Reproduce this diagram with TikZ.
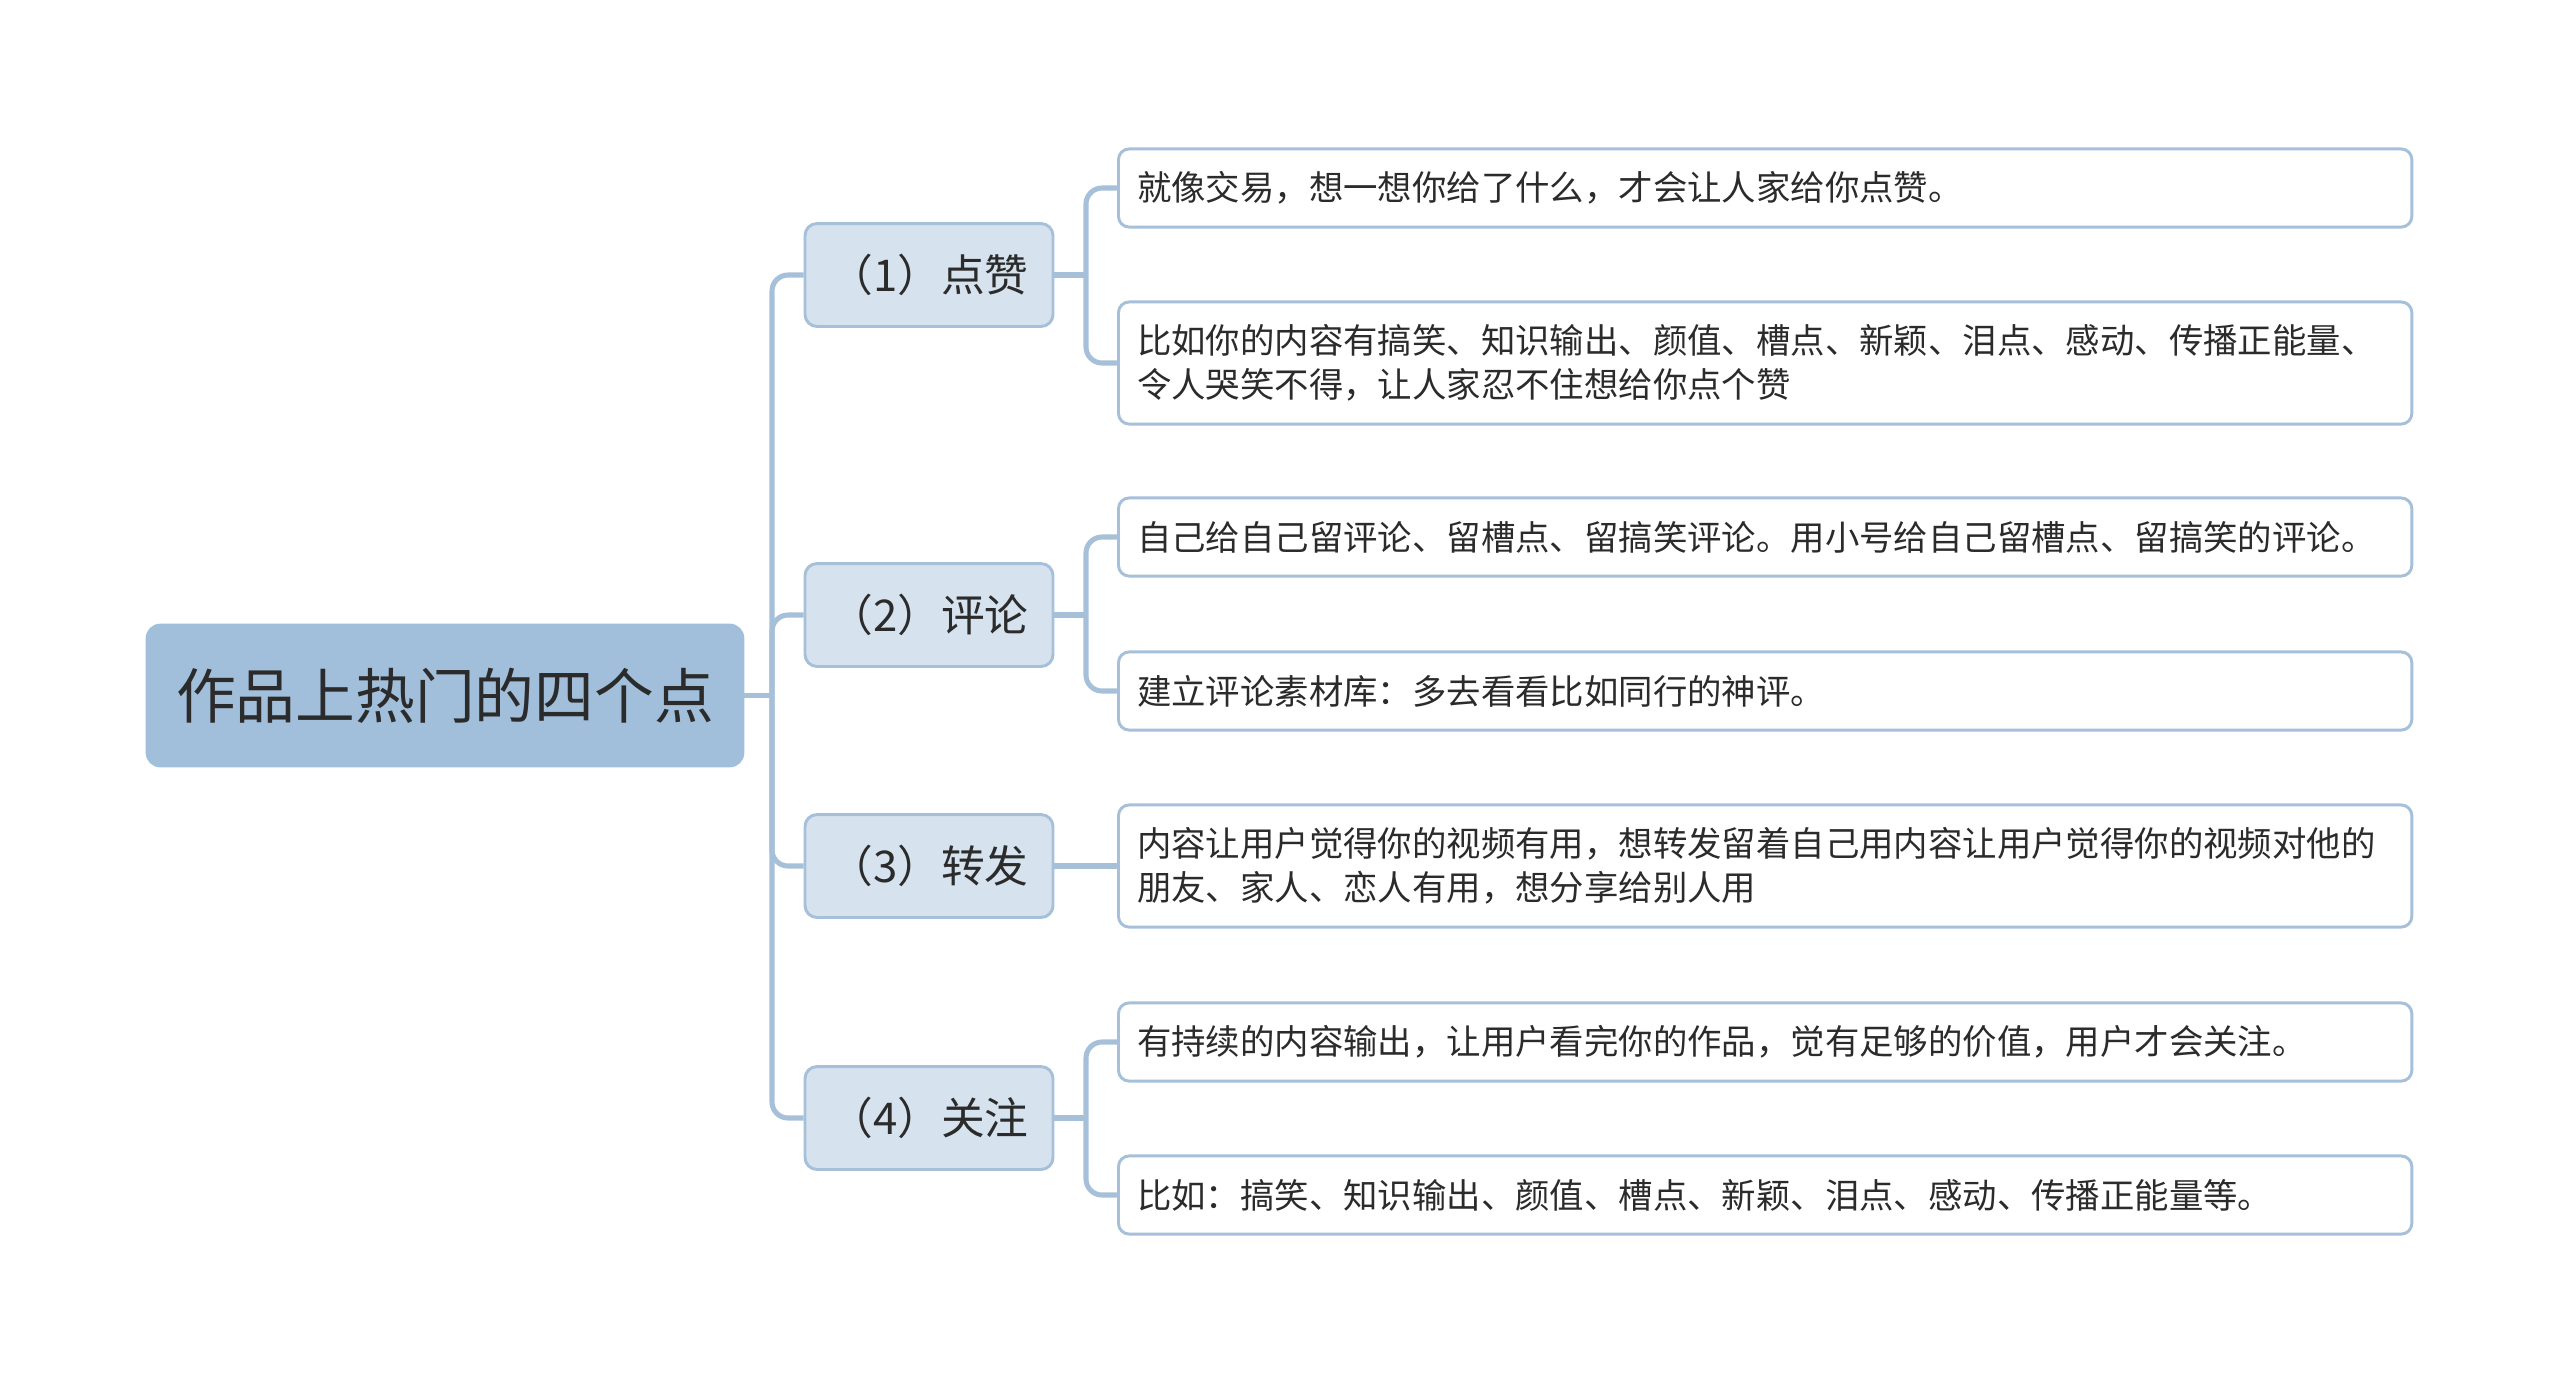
\documentclass[tikz,border=0pt]{standalone}
\usepackage{fontspec}
\setmainfont{Noto Sans CJK SC}
\definecolor{lineC}{HTML}{A6C0DA}
\definecolor{rootF}{HTML}{A1BFDA}
\definecolor{midF}{HTML}{D6E3EE}
\definecolor{txt}{HTML}{2B2B2B}
\begin{document}
\begin{tikzpicture}[x=0.375pt,y=-0.375pt,
  conn/.style={draw=lineC,line width=1.9pt,rounded corners=6pt},
  rootbox/.style={rectangle,rounded corners=5pt,fill=rootF,draw=rootF,line width=1pt,
    minimum width=223.5pt,minimum height=52.9pt,text=txt,font=\fontsize{22.4pt}{26pt}\selectfont},
  midbox/.style={rectangle,rounded corners=4.5pt,fill=midF,draw=lineC,line width=1.1pt,
    minimum width=93pt,minimum height=38.6pt,text=txt,font=\fontsize{16.4pt}{19pt}\selectfont},
  leafbox/.style={rectangle,rounded corners=4pt,fill=white,draw=lineC,line width=1.1pt,
    text width=471pt,align=left,inner xsep=7pt,anchor=west,text=txt,
    font=\fontsize{12.9pt}{16.5pt}\selectfont},
  leaf1/.style={leafbox,minimum height=29.3pt},
  leaf2/.style={leafbox,minimum height=45.8pt}]
\useasboundingbox (0,0) rectangle (2560,1383);
\node[rootbox] (root) at (445,695.5) {作品上热门的四个点};
\node[midbox] (a) at (929,275) {（1）点赞};
\node[midbox] (b) at (929,615) {（2）评论};
\node[midbox] (c) at (929,866) {（3）转发};
\node[midbox] (d) at (929,1118) {（4）关注};
\node[leaf1] (a1) at (1117,188) {就像交易，想一想你给了什么，才会让人家给你点赞。};
\node[leaf2] (a2) at (1117,363) {比如你的内容有搞笑、知识输出、颜值、槽点、新颖、泪点、感动、传播正能量、\\令人哭笑不得，让人家忍不住想给你点个赞};
\node[leaf1] (b1) at (1117,537) {自己给自己留评论、留槽点、留搞笑评论。用小号给自己留槽点、留搞笑的评论。};
\node[leaf1] (b2) at (1117,691) {建立评论素材库：多去看看比如同行的神评。};
\node[leaf2] (c1) at (1117,866) {内容让用户觉得你的视频有用，想转发留着自己用内容让用户觉得你的视频对他的\\朋友、家人、恋人有用，想分享给别人用};
\node[leaf1] (d1) at (1117,1042) {有持续的内容输出，让用户看完你的作品，觉有足够的价值，用户才会关注。};
\node[leaf1] (d2) at (1117,1195) {比如：搞笑、知识输出、颜值、槽点、新颖、泪点、感动、传播正能量等。};
\coordinate (t) at (772,695.5);
\coordinate (ja) at (1086,275);
\coordinate (jb) at (1086,615);
\coordinate (jd) at (1086,1118);
\draw[conn] (root.east) -- (t);
\draw[conn] (t) |- (a.west);
\draw[conn] (t) |- (b.west);
\draw[conn] (t) |- (c.west);
\draw[conn] (t) |- (d.west);
\draw[conn] (a.east) -- (ja);
\draw[conn] (ja) |- (a1.west);
\draw[conn] (ja) |- (a2.west);
\draw[conn] (b.east) -- (jb);
\draw[conn] (jb) |- (b1.west);
\draw[conn] (jb) |- (b2.west);
\draw[conn] (c.east) -- (c1.west);
\draw[conn] (d.east) -- (jd);
\draw[conn] (jd) |- (d1.west);
\draw[conn] (jd) |- (d2.west);
\end{tikzpicture}
\end{document}
